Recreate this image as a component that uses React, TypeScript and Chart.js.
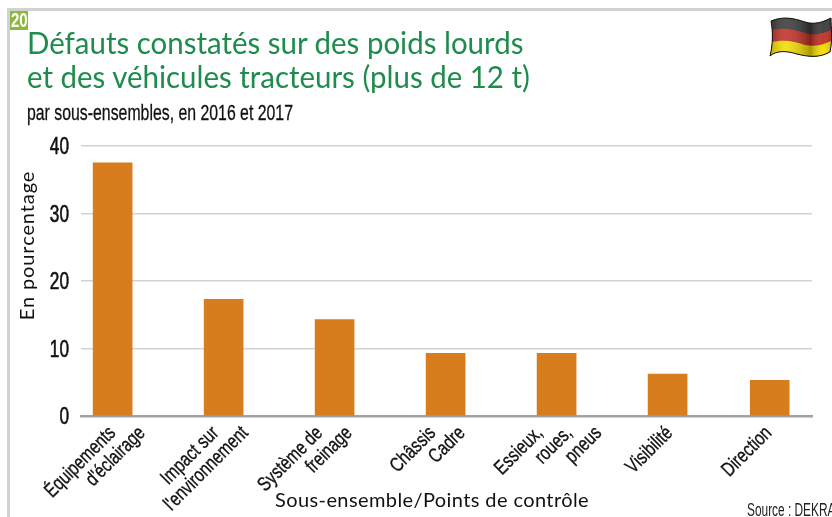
import React, { useEffect, useRef } from "react";
import { Chart, registerables } from "chart.js";

Chart.register(...registerables);

const categories: string[][] = [
  ["Équipements", "d'éclairage"],
  ["Impact sur", "l'environnement"],
  ["Système de", "freinage"],
  ["Châssis", "Cadre"],
  ["Essieux,", "roues,", "pneus"],
  ["Visibilité"],
  ["Direction"],
];
const slots = [0, 1, 2, 3, 4, 5, 5.92];
const values = [37.5, 17.3, 14.3, 9.3, 9.3, 6.2, 5.3];
const yTicks = [0, 10, 20, 30, 40];
const heading = ["Défauts constatés sur des poids lourds", "et des véhicules tracteurs (plus de 12 t)"];
const subheading = "par sous-ensembles, en 2016 et 2017";
const xTitle = "Sous-ensemble/Points de contrôle";
const yTitle = "En pourcentage";
const source = "Source : DEKRA";

const labelNudge = [3, -5, -12, -10, -14, 5, 2];
const NARROW = '"Liberation Sans", sans-serif';
const ROUND = 'Lato, "Noto Sans", sans-serif';

const axisText = {
  id: "axisText",
  afterDraw(chart: any) {
    const ctx = chart.ctx;
    const sx = chart.scales.x;
    const sy = chart.scales.y;
    ctx.save();
    ctx.fillStyle = "#111";
    ctx.strokeStyle = "#111";
    ctx.lineWidth = 0.35;
    ctx.textBaseline = "alphabetic";
    ctx.textAlign = "right";
    ctx.font = `20px ${NARROW}`;
    categories.forEach((lines, i) => {
      const x0 = sx.getPixelForValue(slots[i]) + labelNudge[i];
      lines.forEach((line, j) => {
        ctx.save();
        ctx.translate(x0 + j * 29.5 + 1, 434);
        ctx.rotate(-Math.PI / 4);
        ctx.scale(0.78, 1);
        ctx.fillText(line, 0, 0);
        ctx.strokeText(line, 0, 0);
        ctx.restore();
      });
    });
    ctx.font = `23px ${NARROW}`;
    ctx.lineWidth = 0.6;
    yTicks.forEach((v) => {
      ctx.save();
      ctx.translate(69, sy.getPixelForValue(v) + 8);
      ctx.scale(0.75, 1);
      ctx.fillText(String(v), 0, 0);
      ctx.strokeText(String(v), 0, 0);
      ctx.restore();
    });
    ctx.textAlign = "center";
    ctx.font = `20px ${ROUND}`;
    (ctx as any).letterSpacing = "0.4px";
    ctx.fillText(xTitle, 432, 507);
    (ctx as any).letterSpacing = "0.9px";
    ctx.save();
    ctx.translate(34, 245.5);
    ctx.rotate(-Math.PI / 2);
    ctx.fillText(yTitle, 0, 0);
    ctx.restore();
    ctx.restore();
  },
};

function Flag() {
  return (
    <svg width="64" height="44" viewBox="0 0 64 44" style={{ position: "absolute", left: 769, top: 16 }}>
      <defs>
        <clipPath id="f">
          <path d="M2 5 C14 0 24 2 36 6 C46 9 54 6 62 2 C62 12 64 22 61 36 C50 42 40 41 28 38 C18 35 8 34 1 40 C4 28 4 16 2 5 Z" />
        </clipPath>
        <linearGradient id="s" x1="0" x2="1" y1="0" y2="0">
          <stop offset="0" stopColor="#000" stopOpacity="0.25" />
          <stop offset="0.25" stopColor="#fff" stopOpacity="0.12" />
          <stop offset="0.65" stopColor="#000" stopOpacity="0.3" />
          <stop offset="0.85" stopColor="#fff" stopOpacity="0.05" />
          <stop offset="1" stopColor="#000" stopOpacity="0.25" />
        </linearGradient>
      </defs>
      <g clipPath="url(#f)">
        <rect width="64" height="44" fill="#3a3a3a" />
        <path d="M0 15 C14 11 24 13 36 17 C46 20 54 18 64 13 V44 H0 Z" fill="#c03024" />
        <path d="M0 27 C14 23 24 25 36 29 C46 31 54 29 64 24 V44 H0 Z" fill="#f4dc00" />
        <rect width="64" height="44" fill="url(#s)" />
      </g>
      <path d="M2 5 C14 0 24 2 36 6 C46 9 54 6 62 2 C62 12 64 22 61 36 C50 42 40 41 28 38 C18 35 8 34 1 40 C4 28 4 16 2 5 Z" fill="none" stroke="#111" strokeWidth="1" />
    </svg>
  );
}

export default function App() {
  const ref = useRef<HTMLCanvasElement>(null);
  useEffect(() => {
    const chart = new Chart(ref.current as HTMLCanvasElement, {
      type: "bar",
      data: {
        datasets: [
          {
            label: "Défauts (%)",
            data: slots.map((s, i) => ({ x: s, y: values[i] })),
            backgroundColor: "#D77D1E",
            barThickness: 39,
          },
        ],
      },
      plugins: [axisText],
      options: {
        responsive: false,
        animation: false,
        layout: { padding: { top: 146, right: 20, left: 0, bottom: 0 } },
        plugins: { legend: { display: false }, tooltip: { enabled: false } },
        scales: {
          x: {
            type: "linear",
            offset: false,
            min: -0.285,
            max: 6.301,
            afterFit: (s: any) => { s.height = 101; },
            afterBuildTicks: (s: any) => { s.ticks = slots.map((v) => ({ value: v })); },
            ticks: { display: false },
            grid: { display: false },
            border: { color: "#A3A3A3", width: 2.5 },
          },
          y: {
            min: 0,
            max: 40,
            afterFit: (s: any) => { s.width = 81; },
            afterBuildTicks: (s: any) => { s.ticks = yTicks.map((v) => ({ value: v })); },
            ticks: { display: false },
            grid: { color: "#D3D3D3", lineWidth: 1.5, drawTicks: false },
            border: { display: false },
          },
        },
      } as any,
    });
    return () => chart.destroy();
  }, []);

  const abs = (s: React.CSSProperties): React.CSSProperties => ({ position: "absolute", whiteSpace: "nowrap", ...s });
  const squeeze = (k: number): React.CSSProperties => ({ transform: `scaleX(${k})`, transformOrigin: "0 0" });
  return (
    <div style={{ position: "fixed", left: 0, top: 0, width: 832, height: 517, overflow: "hidden", background: "#fff" }}>
      <canvas ref={ref} width={832} height={517} style={{ position: "absolute", left: 0, top: 0, display: "block" }} />
      <div style={abs({ left: 7, top: 8, width: 825, height: 3, background: "#D2D2D2" })} />
      <div style={abs({ left: 7, top: 8, width: 3, height: 509, background: "#D2D2D2" })} />
      <div style={abs({ left: 10, top: 11, width: 18, height: 19, background: "#8DB83E" })} />
      <div style={abs({ left: 11, top: 11, color: "#fff", font: `bold 20px/19px ${NARROW}`, ...squeeze(0.75) })}>20</div>
      <div style={abs({ left: 27, top: 25, color: "#1F8B4D", font: `31px/34px ${ROUND}`, ...squeeze(0.95) })}>
        {heading[0]}<br />{heading[1]}
      </div>
      <div style={abs({ left: 27, top: 100, color: "#111", font: `22px/26px ${NARROW}`, WebkitTextStroke: "0.3px #111", ...squeeze(0.72) })}>{subheading}</div>
      <div style={abs({ left: 747, top: 499, color: "#222", font: `18px/22px ${NARROW}`, ...squeeze(0.66) })}>{source}</div>
      <Flag />
    </div>
  );
}
